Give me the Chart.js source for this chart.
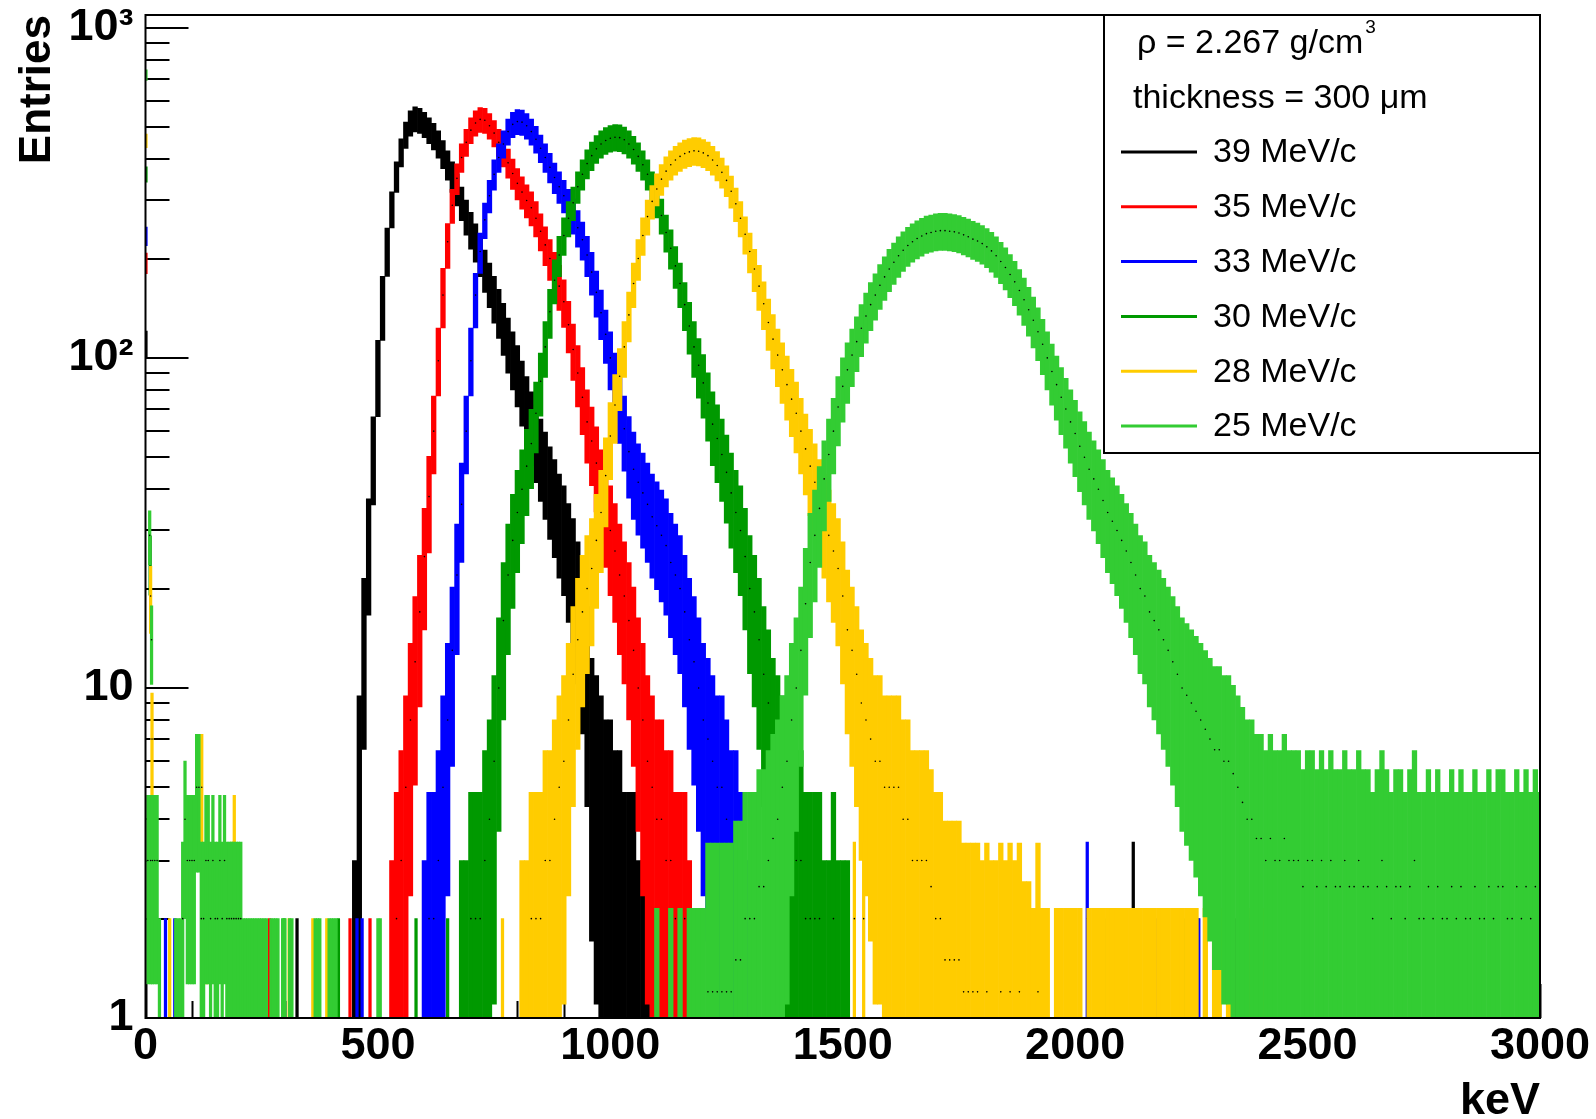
<!DOCTYPE html>
<html>
<head>
<meta charset="utf-8">
<script src="https://cdn.jsdelivr.net/npm/chart.js@4.4.1/dist/chart.umd.min.js"></script>
<style>
  html, body { margin: 0; padding: 0; background: #ffffff; }
  #wrap { position: relative; width: 1596px; height: 1119px; }
</style>
</head>
<body>
<div id="wrap"><canvas id="c" width="1596" height="1119"></canvas></div>
<script>
// ---------------- data ----------------
const seriesLabels = ['39 MeV/c', '35 MeV/c', '33 MeV/c', '30 MeV/c', '28 MeV/c', '25 MeV/c'];
const seriesColors = ['#000000', '#ff0000', '#0000ff', '#009900', '#ffcc00', '#33cc33'];
const headerLines = ['ρ = 2.267 g/cm', 'thickness = 300 μm'];
const headerSup = '3';

const xTickValues = [0, 500, 1000, 1500, 2000, 2500, 3000];
const xTickLabels = ['0', '500', '1000', '1500', '2000', '2500', '3000'];
const yTickValues = [1, 10, 100, 1000];
const yTickLabels = ['1', '10', '10²', '10³'];
const xTitle = 'keV';
const yTitle = 'Entries';

const binKeV = 10;   // width of the dense bins below (keV)

// 39 MeV/c : entries per bin, first bin centred at start39 keV
const start39 = 450;
const counts39 = [1,5,14,27,50,88,145,215,285,355,420,475,515,530,525,510,490,470,445,415,
  385,355,325,295,268,245,225,205,185,168,152,138,124,111,100,90,80,71,63,57,
  51,46,41,37,33,30,26,23,19,15,11,7,6,5,4,4,3,3,2,2,2,1,1,1];
const singles39 = [[1,110],[326,1],[1094,1],[2125,2],[2264,1],[2346,1],[2376,1]];

// 35 MeV/c
const start35 = 530;
const counts35 = [1,2,3,5,8,12,17,25,38,60,98,155,225,290,350,405,450,490,515,528,
  525,505,480,450,420,390,362,338,318,300,285,265,242,220,200,182,165,148,126,106,
  90,76,64,56,48,40,35,30,26,22,19,16,13,10,8,6,5,4,4,3,3,2,2,2,1];
const singles35 = [[1,194],[267,1],[440,1],[483,1],[2300,1],[2340,1]];

// 33 MeV/c
const start33 = 600;
const counts33 = [1,2,2,3,5,8,13,22,36,60,98,155,210,262,310,360,405,445,485,510,
  520,518,505,485,460,432,405,378,352,330,310,290,270,248,228,205,182,158,137,118,
  100,85,72,61,52,46,42,39,36,33,31,29,27,24,22,20,17,14,12,10,8,7,6,5,5,4,3,3,2,1];
const singles33 = [[1,234],[43,1],[63,1],[455,1],[466,1],[1335,2],[1345,2],[1995,1],[2026,2],[2175,1],[2266,1]];

// 30 MeV/c
const start30 = 680;
const counts30 = [1,1,2,2,2,3,4,6,10,16,22,28,34,40,47,55,68,85,108,138,
  172,205,235,265,295,330,360,388,410,430,445,456,463,466,465,458,445,428,408,385,
  360,330,300,270,240,215,190,168,145,125,108,95,84,73,63,57,51,45,39,34,
  30,25,20,17,14,11,9,7,6,5,4,4,3,3,2,2,2,2,1,1,2,1,1,1];
const singles30 = [[1,360],[10,24],[298,1],[415,1],[582,1],[650,1],[1823,1],[1990,1],[2065,1],[2100,1],
  [2125,1],[2165,1],[2190,1],[2200,1],[2212,1],[2238,1],[2255,1]];

// 28 MeV/c
const start28 = 810;
const counts28 = [1,1,2,2,2,3,3,4,5,6,8,11,14,17,20,23,28,34,44,58,
  72,88,108,135,168,200,235,268,298,325,348,368,385,398,408,416,421,424,423,418,
  410,398,383,365,345,320,293,265,237,210,186,165,146,128,114,102,92,83,75,68,
  60,53,47,42,37,33,29,26,23,19,15,13,11,9,8,7,6,6,5,5,
  5,5,4,4,3,3,3,3,2.5,2,2,1.5,1.5,1.5,1.5,1.2,1.2,1.2,1.2,1,
  1.2,1,1,1.2,1,1.2,1,1.2,0.8,0.8,0.6,1.2,0.6,0.6,0,0.6,0.6,0.6,0.6,0.6,
  0.6,0,0.6,0.6,0.6,0.6,0.6,0.6,0.6,0.6,0.6,0.6,0.6,0.6,0.6,0.6,0.6,0.6,0.6,0.6,
  0.6,0.6,0.6,0.6,0.6,0.6,0,0.6,0,0.6,0.6,0,0.6,0,0,0.6,0,0.6,0.6,0.6,0.6,0];
const singles28 = [[1,455],[11,19],[14,7],[52,1],[121,5],[132,3],[186,2],[191,3],[309,1],[360,1],[390,1],[768,1],[1525,2],[1545,2]];

// 25 MeV/c
const start25 = 1100;
const counts25 = [0.6,0,0,0.6,0,0.6,0,0.6,0.6,0.6,0.6,1.2,1.2,1.2,1.2,1.2,1.2,1.5,1.5,2,
  2,2,2.5,2.5,3,3.5,4,5,6,8,10,13,18,24,29,35,43,51,60,71,
  82,92,102,112,123,134,145,155,166,176,186,195,204,212,219,225,230,234,238,240,
  242,243,243,242,241,239,236,233,229,226,222,217,211,204,196,188,179,170,160,150,
  140,130,120,110,100,91,83,76,70,64,59,54,50,46,43,40,37,34,32,30,
  28,26,24,22,20,19,17,16,15,14,13,12,11,10,9.5,9,8.5,8,7.5,7,
  6.5,6.5,6,6,5.5,5,4.5,4,4,3.5,3.5,3,3.5,3,3,3.5,3,3,3,2.5,
  3,3,2.5,3,2.5,3,2.5,2.5,3,2.5,2.5,3,2.5,2.5,2,2.5,3,2.5,2,2.5,
  2.5,2,2.5,3,2,2,2.5,2,2.5,2,2,2.5,2,2.5,2,2,2.5,2,2,2.5,
  2,2.5,2.5,2,2,2.5,2,2.5,2,2.5,2];
const singles25 = [[1,720],[5,3],[9,29],[11,3],[13,14],[15,3],[20,3],[25,3],[30,1],[65,1],[70,1],[75,1],
  [80,2],[85,4],[90,3],[95,3],[100,3],[105,3],[110,5],[115,5],[120,2],[125,2],[130,3],[135,3],
  [140,2],[145,3],[150,2],[155,2],[160,3],[165,2],[170,3],[175,2],[180,2],[185,2],[190,2],[195,2],
  [200,2],[205,2],[210,1],[215,1],[220,1],[225,1],[230,1],[235,1],[240,1],[245,1],[250,1],[255,1],
  [260,1],[270,1],[275,1],[280,1],[285,1],[295,1],[300,1],[310,1],[315,1],[365,1],[370,1],[375,1],
  [395,1],[400,1],[405,1],[410,1],[500,1],[505,1]];

// ---------------- drawing helpers ----------------
const FONT = '"Liberation Sans", Arial, Helvetica, sans-serif';
const SPREAD = 2; // band half-height in units of sqrt(entries)

function denseBars(start, counts) {
  const out = [];
  for (let i = 0; i < counts.length; i++) {
    const n = counts[i];
    if (!(n > 0)) continue;
    let lo = n - SPREAD * Math.sqrt(n);
    let hi = n + SPREAD * Math.sqrt(n);
    for (const j of [i - 1, i + 1]) {
      const m = counts[j];
      if (m > 0) { const g = Math.sqrt(n * m); lo = Math.min(lo, g); hi = Math.max(hi, g); }
    }
    out.push({ x: start + i * binKeV, y: [Math.max(lo, 0.5), hi] });
  }
  return out;
}
function singleBars(list) {
  return list.map(([x, n]) => ({ x, y: [Math.max(n - Math.sqrt(n), 0.5), n + Math.sqrt(n)] }));
}
function markerPoints(start, counts, singles) {
  const pts = [];
  counts.forEach((n, i) => { if (n >= 1) pts.push({ x: start + i * binKeV, y: n }); });
  singles.forEach(([x, n]) => { if (x > 2) pts.push({ x, y: n }); });
  return pts;
}

const series = [
  { start: start39, counts: counts39, singles: singles39 },
  { start: start35, counts: counts35, singles: singles35 },
  { start: start33, counts: counts33, singles: singles33 },
  { start: start30, counts: counts30, singles: singles30 },
  { start: start28, counts: counts28, singles: singles28 },
  { start: start25, counts: counts25, singles: singles25 }
];

const datasets = [];
series.forEach((s, i) => {
  const r = (series.length - 1 - i) * 3;
  datasets.push({
    type: 'bar', label: seriesLabels[i], data: denseBars(s.start, s.counts),
    backgroundColor: seriesColors[i], borderWidth: 0, barThickness: 4.65, grouped: false, order: r + 2
  });
  datasets.push({
    type: 'bar', label: seriesLabels[i] + ' (single bins)', data: singleBars(s.singles),
    backgroundColor: seriesColors[i], borderWidth: 0, barThickness: 2.6, grouped: false, order: r + 1
  });
  datasets.push({
    type: 'line', label: seriesLabels[i] + ' (markers)', data: markerPoints(s.start, s.counts, s.singles),
    showLine: false, pointRadius: 0.8, pointHoverRadius: 0, pointBorderWidth: 0,
    pointBackgroundColor: '#000000', borderColor: '#000000', order: r
  });
});

// ticks, frame and legend in ROOT style
const rootFrame = {
  id: 'rootFrame',
  beforeDatasetsDraw(chart) {
    const { ctx, chartArea: a, scales: { x, y } } = chart;
    ctx.save();
    ctx.strokeStyle = '#000';
    ctx.lineWidth = 2;
    ctx.beginPath();
    for (let v = 0; v <= 3000; v += 100) {
      const px = Math.round(x.getPixelForValue(v)) + 0.5;
      const len = (v % 500 === 0) ? 34 : 17;
      ctx.moveTo(px, a.bottom); ctx.lineTo(px, a.bottom - len);
    }
    for (let d = 1; d <= 1000; d *= 10) {
      for (let m = 1; m <= 9; m++) {
        const v = d * m;
        if (v > y.max) break;
        const py = Math.round(y.getPixelForValue(v));
        const len = (m === 1) ? 43 : 24;
        ctx.moveTo(a.left, py); ctx.lineTo(a.left + len, py);
      }
    }
    ctx.stroke();
    ctx.restore();
  },
  afterDatasetsDraw(chart) {
    const { ctx, chartArea: a } = chart;
    ctx.save();
    ctx.strokeStyle = '#000';
    ctx.lineWidth = 2;
    ctx.strokeRect(a.left, a.top, a.right - a.left, a.bottom - a.top);
    const bw = 436, bh = 438;
    const bl = a.right - bw, bt = a.top;
    ctx.fillStyle = '#fff';
    ctx.fillRect(bl, bt, bw, bh);
    ctx.strokeRect(bl, bt, bw, bh);
    ctx.fillStyle = '#000';
    ctx.textAlign = 'left';
    ctx.textBaseline = 'alphabetic';
    ctx.font = '34px ' + FONT;
    ctx.fillText(headerLines[0], bl + 33, bt + 38);
    const w0 = ctx.measureText(headerLines[0]).width;
    ctx.font = '19px ' + FONT;
    ctx.fillText(headerSup, bl + 33 + w0 + 2, bt + 18);
    ctx.font = '34px ' + FONT;
    ctx.fillText(headerLines[1], bl + 29, bt + 93);
    ctx.textBaseline = 'middle';
    seriesLabels.forEach((lab, i) => {
      const yy = bt + 137 + i * 54.8;
      ctx.strokeStyle = seriesColors[i];
      ctx.lineWidth = 3;
      ctx.beginPath();
      ctx.moveTo(bl + 17, yy); ctx.lineTo(bl + 93, yy);
      ctx.stroke();
      ctx.fillStyle = '#000';
      ctx.fillText(lab, bl + 109, yy + 1);
    });
    ctx.restore();
  }
};

new Chart(document.getElementById('c'), {
  type: 'bar',
  data: { datasets },
  options: {
    responsive: false,
    animation: false,
    events: [],
    layout: { autoPadding: false, padding: { top: 15, right: 56, left: 0, bottom: 0 } },
    plugins: { legend: { display: false }, tooltip: { enabled: false } },
    scales: {
      x: {
        type: 'linear', min: 0, max: 3000, offset: false,
        grid: { display: false, drawTicks: false }, border: { display: false },
        afterBuildTicks: s => { s.ticks = xTickValues.map(v => ({ value: v })); },
        ticks: {
          autoSkip: false, maxRotation: 0, padding: 2, color: '#000',
          font: { family: FONT, size: 45, weight: 'bold' },
          callback: v => xTickLabels[xTickValues.indexOf(v)] ?? ''
        },
        title: {
          display: true, text: xTitle, align: 'end', color: '#000',
          font: { family: FONT, size: 45, weight: 'bold', lineHeight: 1 },
          padding: { top: 0, bottom: -5 }
        },
        afterFit: s => { s.height = 101; s.paddingLeft = 0; s.paddingRight = 0; }
      },
      y: {
        type: 'logarithmic', min: 1, max: 1094,
        grid: { display: false, drawTicks: false }, border: { display: false },
        afterBuildTicks: s => { s.ticks = yTickValues.map(v => ({ value: v })); },
        ticks: {
          autoSkip: false, padding: 12, color: '#000',
          font: { family: FONT, size: 45, weight: 'bold' },
          callback: v => yTickLabels[yTickValues.indexOf(v)] ?? ''
        },
        title: {
          display: true, text: yTitle, align: 'end', color: '#000',
          font: { family: FONT, size: 44, weight: 'bold', lineHeight: 1 },
          padding: { top: 16, bottom: 0 }
        },
        afterFit: s => { s.width = 145.5; s.paddingTop = 0; s.paddingBottom = 0; }
      }
    }
  },
  plugins: [rootFrame]
});
</script>
</body>
</html>
